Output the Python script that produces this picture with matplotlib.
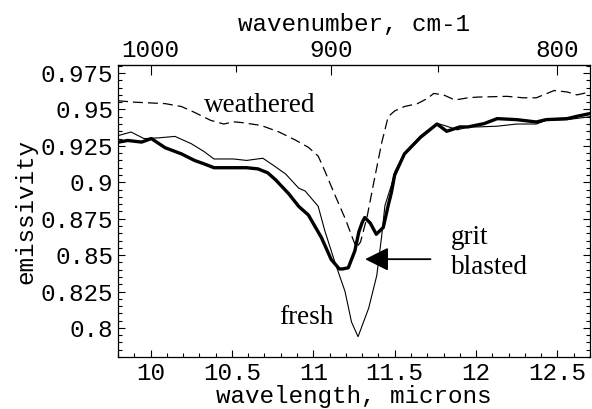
import numpy as np
import matplotlib.pyplot as plt
from matplotlib.ticker import MultipleLocator, FixedLocator

# emissivity spectra (wavelength in microns)
wl_weathered = [9.80, 9.90, 10.09, 10.19, 10.27, 10.37, 10.45, 10.51, 10.56, 10.68,
                10.79, 10.89, 10.97, 11.03, 11.07, 11.13, 11.20, 11.24, 11.265, 11.29,
                11.33, 11.37, 11.42, 11.46, 11.50, 11.56, 11.64, 11.70, 11.74, 11.80,
                11.87, 11.95, 12.01, 12.19, 12.29, 12.37, 12.48, 12.56, 12.62, 12.70]
em_weathered = [0.956, 0.955, 0.954, 0.952, 0.948, 0.9425, 0.940, 0.9415, 0.941, 0.939,
                0.9345, 0.929, 0.924, 0.918, 0.908, 0.892, 0.874, 0.862, 0.855, 0.859,
                0.876, 0.899, 0.927, 0.945, 0.949, 0.952, 0.954, 0.9575, 0.961, 0.960,
                0.9565, 0.958, 0.9585, 0.959, 0.958, 0.958, 0.963, 0.962, 0.960, 0.962]

wl_fresh = [9.80, 9.88, 9.96, 10.05, 10.15, 10.25, 10.33, 10.39, 10.51, 10.59,
            10.69, 10.75, 10.83, 10.91, 10.95, 11.03, 11.07, 11.13, 11.195, 11.235,
            11.275, 11.34, 11.39, 11.42, 11.44, 11.48, 11.50, 11.56, 11.66, 11.76,
            11.82, 11.885, 11.95, 12.01, 12.13, 12.25, 12.37, 12.43, 12.56, 12.70]
em_fresh = [0.932, 0.9345, 0.930, 0.9305, 0.9315, 0.9265, 0.921, 0.916, 0.916, 0.915,
            0.9165, 0.912, 0.9057, 0.896, 0.894, 0.8835, 0.867, 0.846, 0.825, 0.804,
            0.794, 0.8135, 0.836, 0.863, 0.884, 0.898, 0.907, 0.920, 0.932, 0.9405,
            0.9385, 0.936, 0.938, 0.938, 0.9385, 0.940, 0.940, 0.9425, 0.943, 0.945]

wl_grit = [9.80, 9.86, 9.945, 10.005, 10.09, 10.19, 10.27, 10.33, 10.39, 10.51,
           10.59, 10.66, 10.72, 10.77, 10.85, 10.91, 10.97, 11.05, 11.11, 11.16, 11.18,
           11.215, 11.255, 11.28, 11.30, 11.316, 11.35, 11.387, 11.43, 11.46, 11.48,
           11.50, 11.56, 11.66, 11.76, 11.82, 11.90, 11.95, 12.05, 12.13, 12.25,
           12.37, 12.43, 12.56, 12.62, 12.70]
em_grit = [0.9275, 0.9287, 0.9276, 0.930, 0.9237, 0.9195, 0.915, 0.9126, 0.910, 0.910,
           0.910, 0.9092, 0.9065, 0.9015, 0.892, 0.8835, 0.8775, 0.862, 0.847, 0.8405, 0.8405,
           0.8413, 0.8528, 0.866, 0.8723, 0.8758, 0.872, 0.8643, 0.869, 0.884, 0.893,
           0.905, 0.9195, 0.931, 0.940, 0.935, 0.938, 0.938, 0.9403, 0.9437, 0.943,
           0.9414, 0.943, 0.9437, 0.9453, 0.9472]

wn_ticks = [1000, 900, 800]
wn_minor = [950, 850]

mono = 'Liberation Mono'
serif = 'Liberation Serif'

fig = plt.figure(figsize=(5.92, 4.09), dpi=100)
ax = fig.add_axes([0.1993, 0.127, 0.7973, 0.714])

ax.plot(wl_weathered, em_weathered, color='black', lw=0.9, linestyle=(0, (8, 4)))
ax.plot(wl_fresh, em_fresh, color='black', lw=0.8)
ax.plot(wl_grit, em_grit, color='black', lw=2.4, solid_joinstyle='round')

ax.set_xlim(9.8, 12.7)
ax.set_ylim(0.78, 0.9805)

ax.xaxis.set_major_locator(MultipleLocator(0.5))
ax.xaxis.set_minor_locator(MultipleLocator(0.1))
ax.yaxis.set_major_locator(MultipleLocator(0.025))
ax.yaxis.set_minor_locator(MultipleLocator(0.005))
ax.xaxis.set_major_formatter(plt.FuncFormatter(lambda v, p: ('%g' % v)))
ax.yaxis.set_major_formatter(plt.FuncFormatter(lambda v, p: ('%g' % round(v, 3))))

ax.tick_params(axis='both', which='both', direction='in', width=0.8, labelsize=17.5)
ax.tick_params(axis='both', which='major', length=5, pad=3.5)
ax.tick_params(axis='both', which='minor', length=3)
ax.tick_params(axis='y', which='both', right=True)
ax.tick_params(axis='x', which='both', top=False)
for lab in ax.get_xticklabels() + ax.get_yticklabels():
    lab.set_fontfamily(mono)

for s in ax.spines.values():
    s.set_linewidth(0.9)

ax.set_xlabel('wavelength, microns', fontfamily=mono, fontsize=17.5, labelpad=0)
ax.set_ylabel('emissivity', fontfamily=mono, fontsize=17.5, labelpad=2)

top = ax.secondary_xaxis('top', functions=(lambda x: 1e4 / np.asarray(x, float),
                                           lambda x: 1e4 / np.asarray(x, float)))
top.xaxis.set_major_locator(FixedLocator(wn_ticks))
top.xaxis.set_minor_locator(FixedLocator(wn_minor))
top.tick_params(which='both', direction='in', width=0.8, labelsize=17.5, pad=2)
top.tick_params(which='major', length=7)
top.tick_params(which='minor', length=5)
for lab in top.get_xticklabels():
    lab.set_fontfamily(mono)
top.set_xlabel('wavenumber, cm-1', fontfamily=mono, fontsize=17.5, labelpad=6)

ax.text(10.33, 0.948, 'weathered', fontfamily=serif, fontsize=19.5, va='baseline')
ax.text(10.788, 0.803, 'fresh', fontfamily=serif, fontsize=19.5, va='baseline')
ax.text(11.843, 0.8576, 'grit', fontfamily=serif, fontsize=19.5, va='baseline')
ax.text(11.843, 0.8369, 'blasted', fontfamily=serif, fontsize=19.5, va='baseline')
ax.annotate('', xy=(11.318, 0.8472), xytext=(11.72, 0.8472),
            arrowprops=dict(arrowstyle='-|>,head_length=0.72,head_width=0.36',
                            mutation_scale=20, lw=1.3, color='black',
                            shrinkA=0, shrinkB=0))

fig.savefig('out.png', dpi=100)
